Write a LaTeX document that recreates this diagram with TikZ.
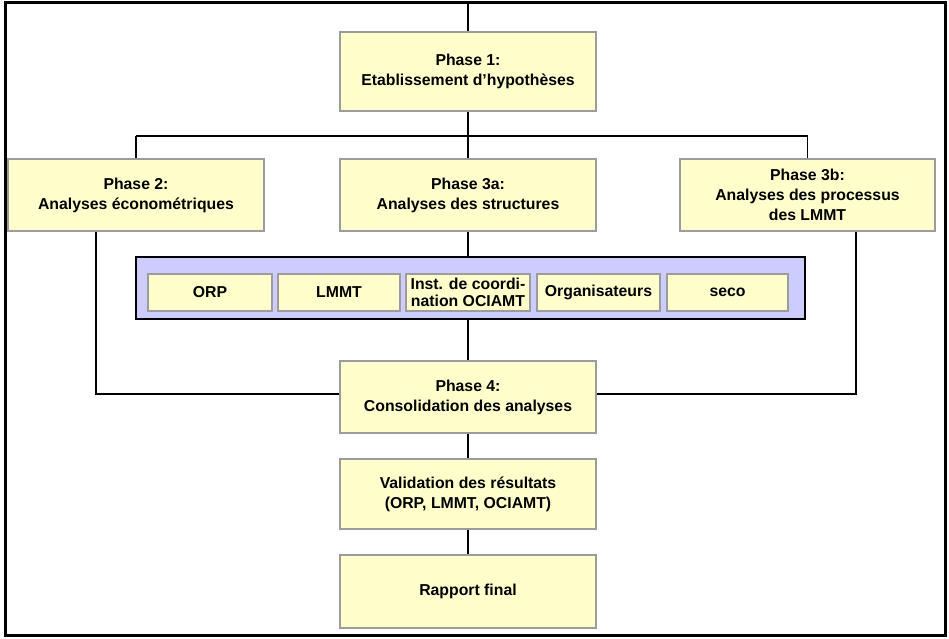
\documentclass[tikz,border=0pt]{standalone}
\usepackage{fontspec}
\setmainfont{Liberation Sans}
\definecolor{boxfill}{HTML}{FFFFCC}
\definecolor{boxline}{HTML}{9C9C9C}
\definecolor{bluefill}{HTML}{CCCCFF}
\begin{document}
\begin{tikzpicture}[x=1pt,y=-1pt,
  pbox/.style={draw=boxline, line width=1.5pt, fill=boxfill, inner sep=0pt,
    align=center, font=\bfseries\fontsize{15.8}{20}\selectfont},
  ibox/.style={draw=boxline, line width=1.5pt, fill=boxfill, inner sep=0pt,
    align=center, minimum height=37pt, font=\bfseries\fontsize{15.8}{17}\selectfont},
  conn/.style={draw=black, line width=1.3pt}]
\useasboundingbox (0,0) rectangle (949,638);
\fill[white] (0,0) rectangle (949,638);
\draw[line width=3pt] (5,2.5) rectangle (945.5,635.5);

\node[pbox, minimum width=256pt, minimum height=79pt] (p1) at (468,71.5) {Phase 1:\\Etablissement d'hypothèses};
\node[pbox, minimum width=256pt, minimum height=72pt] (p2) at (136,195) {Phase 2:\\Analyses économétriques};
\node[pbox, minimum width=256pt, minimum height=72pt] (p3a) at (468,195) {Phase 3a:\\Analyses des structures};
\node[pbox, minimum width=255pt, minimum height=72pt] (p3b) at (807.5,195) {Phase 3b:\\Analyses des processus\\des LMMT};

\node[draw=black, line width=2pt, fill=bluefill, minimum width=669pt, minimum height=62pt, inner sep=0pt] (blue) at (470.5,288) {};
\node[ibox, minimum width=124pt] (orp) at (210,292.5) {ORP};
\node[ibox, minimum width=122pt] (lmmt) at (339,292.5) {LMMT};
\node[ibox, minimum width=124pt] (inst) at (468,292.5) {Inst. de coordi-\\nation OCIAMT};
\node[ibox, minimum width=123pt] (org) at (598.5,292.5) {Organisateurs};
\node[ibox, minimum width=121pt] (seco) at (727.5,292.5) {seco};

\node[pbox, minimum width=256pt, minimum height=72pt] (p4) at (468,397) {Phase 4:\\Consolidation des analyses};
\node[pbox, minimum width=256pt, minimum height=70pt] (val) at (468,494) {Validation des résultats\\(ORP, LMMT, OCIAMT)};
\node[pbox, minimum width=256pt, minimum height=73pt] (rap) at (468,591.5) {Rapport final};

\coordinate (top) at (468,2.5);
\coordinate (splitL) at (136,136);
\coordinate (splitR) at (807.5,136);
\coordinate (lcorner) at (96,394);
\coordinate (rcorner) at (856,394);

\draw[conn] (top) -- (p1.north);
\draw[conn] (p1.south) -- (p3a.north);
\draw[conn] (splitL) -- (splitR);
\draw[conn] (splitL) -- (p2.north);
\draw[conn] (splitR) -- (p3b.north);
\draw[conn] (p3a.south) -- (p3a.south |- blue.north);
\draw[conn] (p4.north |- blue.south) -- (p4.north);
\draw[conn] (p2.south -| lcorner) -- (lcorner) -- (lcorner -| p4.west);
\draw[conn] (p3b.south -| rcorner) -- (rcorner) -- (rcorner -| p4.east);
\draw[conn] (p4.south) -- (val.north);
\draw[conn] (val.south) -- (rap.north);
\end{tikzpicture}
\end{document}
